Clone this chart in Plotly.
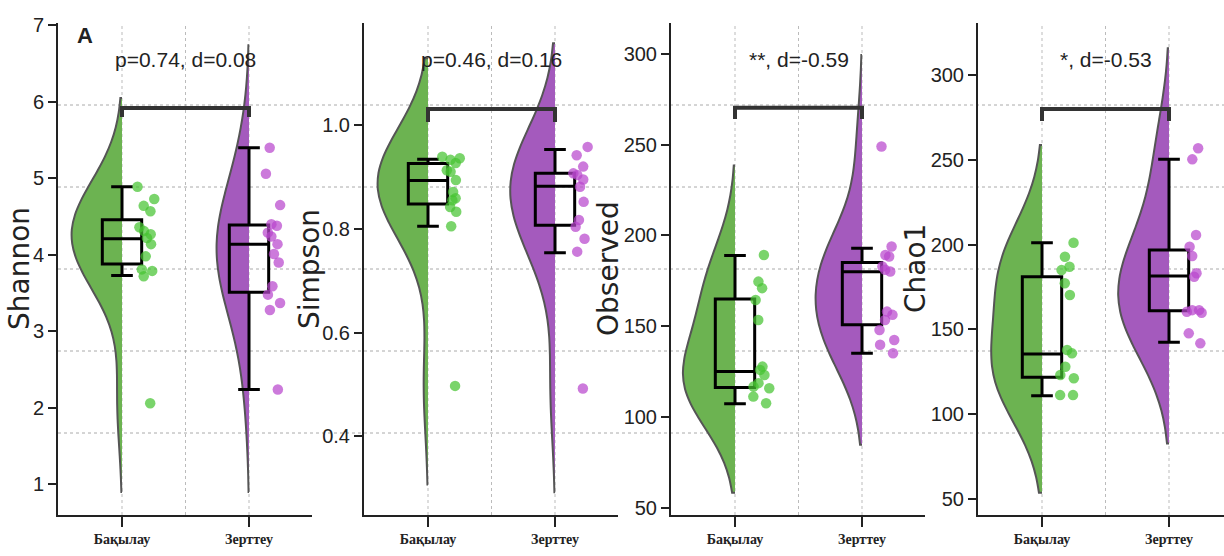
import plotly.graph_objects as go

W, H = 1224, 556

# ---------------- data ----------------
groups = ["Бақылау", "Зерттеу"]
metrics = ["Shannon", "Simpson", "Observed", "Chao1"]

shannon_ctrl = [4.89, 4.73, 4.64, 4.57, 4.36, 4.31, 4.27, 4.22, 4.14, 3.98, 3.81, 3.79, 3.72, 2.06]
shannon_exp = [5.40, 5.06, 4.65, 4.40, 4.38, 4.29, 4.24, 4.14, 4.01, 3.90, 3.59, 3.48, 3.37, 3.28, 2.24]
simpson_ctrl = [0.939, 0.936, 0.933, 0.927, 0.913, 0.910, 0.894, 0.871, 0.859, 0.855, 0.842, 0.833, 0.805, 0.497]
simpson_exp = [0.958, 0.942, 0.920, 0.907, 0.904, 0.895, 0.881, 0.852, 0.817, 0.804, 0.781, 0.756, 0.492]
observed_ctrl = [189.3, 174.6, 171.0, 164.5, 153.5, 127.8, 126.0, 123.2, 118.7, 116.8, 115.9, 111.3, 107.6]
observed_exp = [249.0, 193.9, 189.3, 188.4, 182.9, 181.1, 180.2, 158.1, 156.3, 153.5, 148.0, 142.5, 139.8, 135.2]
chao1_ctrl = [201.1, 192.9, 187.0, 185.0, 177.2, 170.3, 137.9, 135.9, 128.0, 123.1, 121.2, 111.3, 111.3]
chao1_exp = [256.8, 250.3, 205.7, 198.8, 193.3, 183.1, 181.1, 161.4, 160.4, 159.9, 161.4, 147.7, 141.8]

# box statistics: [lowerfence, q1, median, q3, upperfence]
shannon_box_ctrl = [3.73, 3.88, 4.21, 4.46, 4.89]
shannon_box_exp = [2.24, 3.51, 4.14, 4.39, 5.40]
simpson_box_ctrl = [0.805, 0.848, 0.893, 0.926, 0.934]
simpson_box_exp = [0.754, 0.807, 0.882, 0.907, 0.953]
observed_box_ctrl = [107.3, 116.3, 125.1, 165.1, 189.0]
observed_box_exp = [135.2, 150.8, 180.1, 185.1, 193.0]
chao1_box_ctrl = [110.9, 121.8, 135.5, 181.1, 201.1]
chao1_box_exp = [142.4, 161.0, 181.5, 196.8, 250.3]

stat_labels = ["p=0.74, d=0.08", "p=0.46, d=0.16", "**, d=-0.59", "*, d=-0.53"]
bracket_y = [5.92, 1.031, 270.3, 280.0]
bracket_tick_y = [5.80, 1.006, 264.2, 272.9]

y_ranges = [[0.60, 7.03], [0.248, 1.197], [46.1, 317.0], [40.6, 330.7]]
y_ticks = [[1, 2, 3, 4, 5, 6, 7], [0.4, 0.6, 0.8, 1.0], [50, 100, 150, 200, 250, 300], [50, 100, 150, 200, 250, 300]]
y_tickformat = ["d", ".1f", "d", "d"]

# ---------------- styling ----------------
ctrl_vals = [shannon_ctrl, simpson_ctrl, observed_ctrl, chao1_ctrl]
exp_vals = [shannon_exp, simpson_exp, observed_exp, chao1_exp]
ctrl_box = [shannon_box_ctrl, simpson_box_ctrl, observed_box_ctrl, chao1_box_ctrl]
exp_box = [shannon_box_exp, simpson_box_exp, observed_box_exp, chao1_box_exp]

bw_ctrl = [0.58, 0.095, 24.6, 28.8]
bw_exp = [0.67, 0.10, 25.2, 29.5]
vw_ctrl = [0.79, 0.79, 0.82, 0.80]
vw_exp = [0.51, 0.70, 0.73, 0.80]

GREEN_FILL = "#6cb351"
PURPLE_FILL = "#a45abd"
GREEN_PT = "rgba(70,195,50,0.72)"
PURPLE_PT = "rgba(185,70,205,0.72)"
OUTLINE = "#555555"
AXC = "#222222"
SANS = "Liberation Sans, Arial, sans-serif"

# pixel layout of panels
left_px = [58, 364, 671, 978]
right_px = [312, 618, 925, 1224]
PX_UNIT = 127.0
top_px, bot_px = 23, 515
ydom = [(H - bot_px) / H, (H - top_px) / H]

fig = go.Figure()

for i in range(4):
    xa = "x" if i == 0 else f"x{i+1}"
    ya = "y" if i == 0 else f"y{i+1}"
    for g, (vals, bx, bw, vw, fill, ptc) in enumerate([
        (ctrl_vals[i], ctrl_box[i], bw_ctrl[i], vw_ctrl[i], GREEN_FILL, GREEN_PT),
        (exp_vals[i], exp_box[i], bw_exp[i], vw_exp[i], PURPLE_FILL, PURPLE_PT),
    ]):
        # half violin (left side)
        fig.add_trace(go.Violin(
            x=[g] * len(vals), y=vals, xaxis=xa, yaxis=ya,
            side="negative", points=False, width=vw, bandwidth=bw,
            spanmode="soft", scalemode="width", scalegroup=f"s{i}{g}",
            fillcolor=fill, opacity=1, line=dict(color=OUTLINE, width=2),
            box_visible=False, meanline_visible=False, showlegend=False,
            hoverinfo="skip",
        ))
        # box with given statistics
        fig.add_trace(go.Box(
            x=[g], lowerfence=[bx[0]], q1=[bx[1]], median=[bx[2]], q3=[bx[3]],
            upperfence=[bx[4]], xaxis=xa, yaxis=ya, width=0.31, whiskerwidth=0.55,
            fillcolor="rgba(0,0,0,0)", line=dict(color="black", width=3),
            boxpoints=False, showlegend=False, hoverinfo="skip",
        ))
        # jittered points on the right
        fig.add_trace(go.Box(
            x=[g] * len(vals), y=vals, xaxis=xa, yaxis=ya, width=0.2,
            boxpoints="all", pointpos=2.0, jitter=0.9,
            fillcolor="rgba(0,0,0,0)", line=dict(color="rgba(0,0,0,0)", width=0),
            marker=dict(color=ptc, size=10.5, line=dict(width=0)),
            showlegend=False, hoverinfo="skip",
        ))
    # significance bracket
    fig.add_trace(go.Scatter(
        x=[0, 0, 1, 1], y=[bracket_tick_y[i], bracket_y[i], bracket_y[i], bracket_tick_y[i]],
        xaxis=xa, yaxis=ya, mode="lines", line=dict(color="#333333", width=4),
        showlegend=False, hoverinfo="skip",
    ))

layout = dict(
    width=W, height=H, margin=dict(l=0, r=0, t=0, b=0, pad=0, autoexpand=False),
    paper_bgcolor="white", plot_bgcolor="rgba(0,0,0,0)",
    boxmode="overlay", violinmode="overlay", showlegend=False,
)

shapes = []
annotations = []
for i in range(4):
    sfx = "" if i == 0 else str(i + 1)
    L, R = left_px[i], right_px[i]
    x0 = -64.0 / PX_UNIT
    x1 = x0 + (R - L) / PX_UNIT
    layout[f"xaxis{sfx}"] = dict(
        domain=[L / W, R / W], range=[x0, x1], anchor=f"y{sfx}", automargin=False,
        tickvals=[0, 1], ticktext=groups,
        tickfont=dict(family="Liberation Serif, Times New Roman, serif", size=14, color=AXC, weight="bold"),
        showline=True, linecolor=AXC, linewidth=2, ticks="outside", ticklen=10, tickwidth=2,
        tickcolor=AXC, showgrid=False, zeroline=False,
    )
    layout[f"yaxis{sfx}"] = dict(
        domain=ydom, range=y_ranges[i], anchor=f"x{sfx}", automargin=False,
        tickvals=y_ticks[i], tickformat=y_tickformat[i],
        tickfont=dict(family=SANS, size=20, color=AXC),
        showline=True, linecolor=AXC, linewidth=2, ticks="outside", ticklen=8, tickwidth=2,
        tickcolor=AXC, showgrid=False, zeroline=False,
    )
    # vertical dotted gridlines
    for xv in [0, 0.5, 1]:
        shapes.append(dict(type="line", xref=f"x{sfx}", yref=f"y{sfx} domain", x0=xv, x1=xv, y0=0, y1=1,
                           line=dict(color="#bbbbbb", width=1, dash="dot"), layer="below"))
    # stats text
    annotations.append(dict(text=stat_labels[i], xref=f"x{sfx}", yref=f"y{sfx} domain", x=0.5,
                            y=(bot_px - 60) / (bot_px - top_px), showarrow=False,
                            font=dict(family=SANS, size=21, color=AXC), xanchor="center", yanchor="middle"))

# horizontal dotted grid across the figure
for k in range(1, 6):
    shapes.append(dict(type="line", xref="paper", yref="y domain", x0=58 / W, x1=1, y0=k / 6, y1=k / 6,
                       line=dict(color="#aaaaaa", width=1, dash="dot"), layer="below"))

# y-axis titles
ytitle_x = [19, 309, 608, 915]
for i in range(4):
    annotations.append(dict(text=metrics[i], xref="paper", yref="paper", x=ytitle_x[i] / W,
                            y=(H - 269) / H, textangle=-90, showarrow=False,
                            font=dict(family="DejaVu Sans, sans-serif", size=28, color=AXC),
                            xanchor="center", yanchor="middle"))

annotations.append(dict(text="<b>A</b>", xref="paper", yref="paper", x=85 / W, y=(H - 35) / H,
                        showarrow=False, font=dict(family=SANS, size=22, color=AXC),
                        xanchor="center", yanchor="middle"))

layout["shapes"] = shapes
layout["annotations"] = annotations
fig.update_layout(**layout)
fig.write_html("out.html")
